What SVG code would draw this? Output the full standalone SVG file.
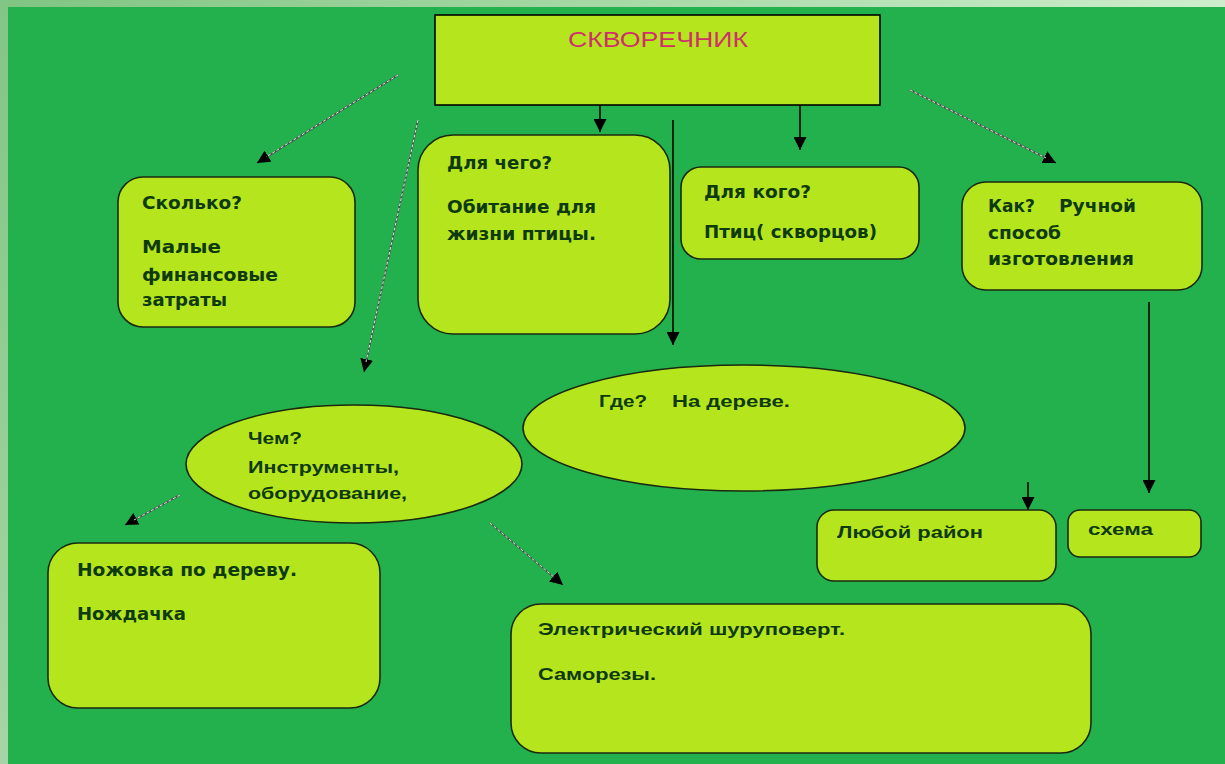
<svg xmlns="http://www.w3.org/2000/svg" width="1225" height="764" viewBox="0 0 1225 764">
<defs>
<linearGradient id="topband" x1="0" y1="0" x2="1" y2="0">
<stop offset="0" stop-color="#80c482"/>
<stop offset="1" stop-color="#cdedcb"/>
</linearGradient>
<linearGradient id="leftband" x1="0" y1="0" x2="0" y2="1">
<stop offset="0" stop-color="#82c584"/>
<stop offset="1" stop-color="#a6d4a6"/>
</linearGradient>
<marker id="ah" markerUnits="userSpaceOnUse" markerWidth="13" markerHeight="13" viewBox="0 0 12 12" refX="12" refY="6" orient="auto">
<path d="M0,0 L12,6 L0,12 z" fill="#000"/>
</marker>
</defs>
<style>
.node{fill:#b5e61d;stroke:#1a2a10;stroke-width:1.6}
.t{font-family:"DejaVu Sans",Verdana,sans-serif;font-weight:bold;font-size:17.5px;fill:#0e3a0e}
.c{font-family:"Liberation Sans",Arial,sans-serif;font-weight:bold;font-size:17px;fill:#0e3a0e}
.title{font-family:"Liberation Sans",Arial,sans-serif;font-size:22px;fill:#d0306a}
.solid{stroke:#000;stroke-width:1.6;fill:none}
.dark{stroke:#4a4a4a;stroke-width:1.6;fill:none}
.lite{stroke:#f4f4f4;stroke-width:0.9;stroke-dasharray:3 2;fill:none}
</style>
<rect x="0" y="0" width="1225" height="764" fill="#22b14c"/>
<rect x="0" y="0" width="1225" height="7" fill="url(#topband)"/>
<rect x="0" y="0" width="8" height="764" fill="url(#leftband)"/>

<g id="connectors">
<line class="dark" x1="398" y1="75" x2="257" y2="163" marker-end="url(#ah)"/>
<line class="lite" x1="398" y1="75" x2="266" y2="157"/>
<line class="dark" x1="418" y1="120" x2="364" y2="372" marker-end="url(#ah)"/>
<line class="lite" x1="418" y1="120" x2="366" y2="362"/>
<line class="solid" x1="600" y1="105" x2="600" y2="132" marker-end="url(#ah)"/>
<line class="solid" x1="673" y1="120" x2="673" y2="345" marker-end="url(#ah)"/>
<line class="solid" x1="800" y1="105" x2="800" y2="150" marker-end="url(#ah)"/>
<line class="dark" x1="910" y1="90" x2="1056" y2="163" marker-end="url(#ah)"/>
<line class="lite" x1="910" y1="90" x2="1046" y2="158"/>
<line class="dark" x1="180" y1="495" x2="125" y2="525" marker-end="url(#ah)"/>
<line class="lite" x1="180" y1="495" x2="134" y2="520"/>
<line class="dark" x1="490" y1="523" x2="563" y2="585" marker-end="url(#ah)"/>
<line class="lite" x1="490" y1="523" x2="555" y2="578"/>
<line class="solid" x1="1028" y1="482" x2="1028" y2="510" marker-end="url(#ah)"/>
<line class="solid" x1="1149" y1="302" x2="1149" y2="493" marker-end="url(#ah)"/>
</g>

<g id="title">
<rect x="435" y="15" width="445" height="90" fill="#b5e61d" stroke="#000" stroke-width="1.6"/>
<text class="title" x="568" y="47" textLength="180" lengthAdjust="spacingAndGlyphs">СКВОРЕЧНИК</text>
</g>

<g id="skolko">
<rect class="node" x="118" y="177" width="237" height="150" rx="25"/>
<text class="t" x="142" y="209" textLength="100" lengthAdjust="spacingAndGlyphs">Сколько?</text>
<text class="t" x="142" y="253" textLength="79" lengthAdjust="spacingAndGlyphs">Малые</text>
<text class="t" x="142" y="281" textLength="136" lengthAdjust="spacingAndGlyphs">финансовые</text>
<text class="t" x="142" y="306" textLength="85" lengthAdjust="spacingAndGlyphs">затраты</text>
</g>

<g id="dlya-chego">
<rect class="node" x="418" y="135" width="252" height="199" rx="35"/>
<text class="t" x="447" y="169" textLength="105" lengthAdjust="spacingAndGlyphs">Для чего?</text>
<text class="t" x="447" y="213" textLength="149" lengthAdjust="spacingAndGlyphs" fill="#0a430a">Обитание для</text>
<text class="t" x="447" y="240" textLength="149" lengthAdjust="spacingAndGlyphs">жизни птицы.</text>
</g>

<g id="dlya-kogo">
<rect class="node" x="681" y="167" width="238" height="92" rx="20"/>
<text class="t" x="704" y="198" textLength="107" lengthAdjust="spacingAndGlyphs">Для кого?</text>
<text class="t" x="704" y="238" textLength="173" lengthAdjust="spacingAndGlyphs">Птиц( скворцов)</text>
</g>

<g id="kak">
<rect class="node" x="962" y="182" width="240" height="108" rx="24"/>
<text class="t" y="212"><tspan x="988" textLength="47" lengthAdjust="spacingAndGlyphs">Как?</tspan><tspan x="1059" textLength="77" lengthAdjust="spacingAndGlyphs">Ручной</tspan></text>
<text class="t" x="988" y="239" textLength="73" lengthAdjust="spacingAndGlyphs">способ</text>
<text class="t" x="988" y="265" textLength="146" lengthAdjust="spacingAndGlyphs">изготовления</text>
</g>

<g id="gde">
<ellipse class="node" cx="744" cy="428" rx="221" ry="63"/>
<text class="c" y="407"><tspan x="599" textLength="48" lengthAdjust="spacingAndGlyphs">Где?</tspan><tspan x="672" textLength="118" lengthAdjust="spacingAndGlyphs">На дереве.</tspan></text>
</g>

<g id="chem">
<ellipse class="node" cx="354" cy="464" rx="168" ry="59"/>
<text class="c" x="248" y="444" textLength="54" lengthAdjust="spacingAndGlyphs">Чем?</text>
<text class="c" x="248" y="473" textLength="151" lengthAdjust="spacingAndGlyphs">Инструменты,</text>
<text class="c" x="248" y="499" textLength="159" lengthAdjust="spacingAndGlyphs">оборудование,</text>
</g>

<g id="nozhovka">
<rect class="node" x="48" y="543" width="332" height="165" rx="30"/>
<text class="t" x="77" y="576" textLength="220" lengthAdjust="spacingAndGlyphs">Ножовка по дереву.</text>
<text class="t" x="77" y="620" textLength="109" lengthAdjust="spacingAndGlyphs">Нождачка</text>
</g>

<g id="elektr">
<rect class="node" x="511" y="604" width="580" height="149" rx="30"/>
<text class="c" x="538" y="635" textLength="307" lengthAdjust="spacingAndGlyphs">Электрический шуруповерт.</text>
<text class="c" x="538" y="680" textLength="118" lengthAdjust="spacingAndGlyphs">Саморезы.</text>
</g>

<g id="lyuboy">
<rect class="node" x="817" y="510" width="239" height="71" rx="17"/>
<text class="c" x="837" y="538" textLength="146" lengthAdjust="spacingAndGlyphs">Любой район</text>
</g>

<g id="skhema">
<rect class="node" x="1068" y="510" width="133" height="47" rx="12"/>
<text class="c" x="1088" y="535" textLength="65" lengthAdjust="spacingAndGlyphs">схема</text>
</g>
</svg>
